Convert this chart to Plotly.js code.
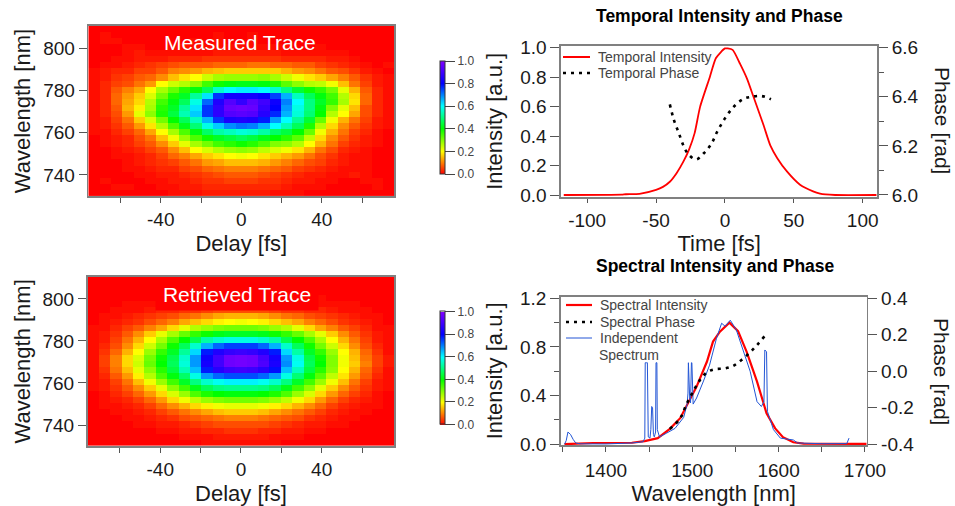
<!DOCTYPE html>
<html>
<head>
<meta charset="utf-8">
<script src="https://cdn.plot.ly/plotly-3.0.1.min.js"></script>
<style>html,body{margin:0;padding:0;background:#fff}#chart{width:955px;height:506px}</style>
</head>
<body>
<div id="chart"></div>
<script>
// Trace values in percent of peak; rows run from the long-wavelength (top) row downward
const measuredTrace = [
[0,0,0,0,0,0,0,0,0,0,0,0,0,0,0,0,0,0,0,0,0,0,0,0,0,0,0],
[0,1,0,0,0,0,0,0,0,0,0,1,0,0,1,0,0,0,0,0,0,0,0,0,0,0,0],
[0,1,1,0,0,0,0,0,0,1,0,1,0,0,1,0,0,0,0,0,0,0,0,0,0,0,0],
[0,0,0,1,1,0,0,1,1,1,1,1,1,1,1,1,1,1,0,0,1,0,0,0,0,0,0],
[0,0,0,1,2,1,1,1,1,1,1,2,2,2,2,2,2,1,1,1,1,1,1,0,0,0,0],
[0,0,1,1,2,2,2,3,3,3,4,4,4,4,4,4,4,3,3,3,3,2,2,1,0,0,0],
[0,1,1,2,3,4,5,6,7,7,7,8,8,8,9,9,8,8,7,7,5,4,3,2,1,0,1],
[1,2,3,3,5,5,7,10,11,12,14,15,16,16,16,16,16,14,12,11,9,7,6,4,2,1,0],
[1,2,4,5,7,8,11,15,18,20,24,27,28,28,28,29,27,24,21,18,16,13,10,7,4,2,1],
[1,3,5,6,9,12,20,24,26,29,35,39,41,42,42,41,38,33,29,26,25,21,15,9,5,2,1],
[1,3,7,10,13,20,27,32,37,41,47,56,60,61,61,60,56,50,44,39,36,31,22,14,7,3,1],
[1,3,8,12,16,23,31,38,43,52,62,76,83,83,83,81,75,66,55,47,41,35,26,17,8,3,1],
[1,3,8,13,17,26,35,41,47,58,72,85,93,88,94,90,82,70,60,50,43,36,27,18,8,3,1],
[1,3,7,14,19,27,37,43,52,62,76,87,96,97,96,88,80,68,58,50,41,30,22,15,6,3,1],
[1,3,6,12,22,29,38,45,54,64,76,87,93,94,93,86,77,66,57,49,40,26,20,13,6,3,1],
[1,2,5,9,16,23,31,40,47,55,66,76,84,85,84,78,68,60,52,44,32,21,14,9,5,2,1],
[1,2,4,7,12,18,26,34,42,49,58,64,69,71,70,66,60,54,47,38,26,17,11,7,4,2,1],
[1,1,3,5,8,13,20,27,34,41,48,53,55,57,56,53,48,45,40,32,21,14,9,5,3,1,0],
[0,1,2,3,6,9,15,21,28,34,39,43,45,47,45,42,40,37,33,25,17,11,7,4,2,1,0],
[0,1,2,3,5,7,11,16,22,27,31,35,37,39,37,34,30,29,26,20,14,9,5,3,2,1,0],
[0,0,1,2,3,5,7,11,15,20,23,26,28,29,28,25,23,21,18,14,9,6,3,2,1,0,0],
[0,0,1,1,2,3,5,8,10,13,16,18,20,21,20,18,16,14,12,9,6,4,2,1,1,0,0],
[0,0,0,1,2,3,4,5,7,9,12,13,15,15,15,14,12,10,8,6,5,3,2,1,1,0,0],
[0,0,0,1,1,2,3,3,5,6,8,9,10,10,10,9,8,7,5,4,3,2,1,1,1,0,0],
[0,0,0,0,1,1,2,2,3,4,5,6,7,7,7,6,5,4,3,2,2,1,1,2,1,0,0],
[0,1,0,0,0,1,1,2,2,3,4,4,5,5,5,4,4,3,2,2,1,1,0,0,1,1,0],
[0,0,1,1,0,0,1,1,2,2,3,3,3,3,3,3,3,2,1,1,1,0,0,0,0,1,0],
[0,0,0,0,0,0,0,1,1,1,2,2,2,2,2,2,1,1,1,0,0,0,0,0,0,0,0]
];
const retrievedTrace = [
[0,0,0,0,0,0,0,0,0,0,0,0,0,0,0,0,0,0,0,0,0,0,0,0,0,0,0],
[0,0,0,0,0,0,0,0,0,0,0,0,0,0,0,0,0,0,0,0,0,0,0,0,0,0,0],
[0,0,0,0,0,0,0,0,0,0,0,0,0,0,0,0,0,0,0,0,0,0,0,0,0,0,0],
[0,0,0,0,0,0,1,1,1,1,1,1,1,1,1,1,1,1,1,1,1,0,0,0,0,0,0],
[0,0,0,1,1,1,1,2,2,2,3,3,3,3,3,3,3,2,2,2,1,1,1,1,0,0,0],
[0,0,1,1,1,2,3,3,4,4,5,6,6,6,6,6,5,4,4,3,3,2,1,1,1,0,0],
[0,1,1,2,3,4,5,6,8,9,11,13,14,14,14,13,11,9,8,6,5,4,3,2,1,1,0],
[0,1,2,3,4,6,8,10,13,15,17,19,20,21,20,19,17,15,13,10,8,6,4,3,2,1,0],
[1,1,3,5,7,10,13,17,22,26,28,30,31,31,31,30,28,26,22,17,13,10,7,5,3,1,1],
[1,2,4,7,11,16,22,27,32,36,39,42,43,43,43,42,39,36,32,27,22,16,11,7,4,2,1],
[1,2,5,9,14,20,27,34,40,46,53,56,58,58,58,56,53,46,40,34,27,20,14,9,5,2,1],
[1,3,6,11,17,24,31,39,47,56,66,72,75,75,75,72,66,56,47,39,31,24,17,11,6,3,1],
[1,4,8,14,20,28,36,43,52,63,78,85,88,89,88,85,78,63,53,43,36,28,20,14,8,4,1],
[1,5,10,17,23,31,39,46,56,68,82,90,97,98,97,91,83,68,58,46,39,30,21,15,9,5,2],
[1,5,10,17,24,32,40,47,57,68,83,90,97,98,97,92,84,69,59,47,40,30,21,16,10,5,2],
[1,4,9,15,22,29,37,45,54,65,78,86,89,90,89,86,79,65,55,45,37,29,20,14,8,4,1],
[1,3,7,12,19,26,34,41,48,58,68,72,74,74,74,72,68,58,49,41,33,25,18,12,7,3,1],
[1,2,5,9,15,21,28,35,43,50,56,59,61,61,61,59,56,50,43,35,28,21,15,9,5,2,1],
[1,2,4,7,11,16,22,29,35,42,47,50,51,51,51,50,47,42,35,29,22,16,11,7,4,2,1],
[0,1,3,5,8,12,17,23,28,34,38,40,41,41,41,40,38,34,28,23,17,12,8,5,3,1,0],
[0,1,2,3,5,8,12,17,21,25,28,30,31,31,31,30,28,25,21,17,12,8,5,3,2,1,0],
[0,1,1,2,3,5,8,11,14,17,19,21,22,22,22,21,19,17,14,11,8,5,3,2,1,1,0],
[0,0,1,1,2,3,5,7,9,11,13,15,16,16,16,15,13,11,9,7,5,3,2,1,1,0,0],
[0,0,0,1,1,2,3,4,6,7,8,9,10,10,10,9,8,7,6,4,3,2,1,1,0,0,0],
[0,0,0,0,1,1,2,2,3,4,5,6,6,6,6,6,5,4,3,2,2,1,1,0,0,0,0],
[0,0,0,0,0,0,1,1,2,2,3,3,4,4,4,3,3,2,2,1,1,0,0,0,0,0,0],
[0,0,0,0,0,0,0,0,1,1,1,2,2,2,2,2,1,1,1,0,0,0,0,0,0,0,0],
[0,0,0,0,0,0,0,0,0,0,1,1,1,1,1,1,1,0,0,0,0,0,0,0,0,0,0]
];
const temporalTime = [-117,-75,-72,-62,-50,-45,-40,-35,-30,-26,-22,-18,-11,-6.5,0,2,5.6,11,16,20.6,28,33,38,45,54.5,64,69,73,80,110];
const temporalIntensity = [0,0.002,0.005,0.008,0.035,0.055,0.09,0.15,0.23,0.31,0.42,0.6,0.8,0.93,0.995,0.995,0.985,0.89,0.79,0.67,0.475,0.335,0.25,0.16,0.07,0.025,0.01,0.004,0,0];
const phaseTime = [-40,-37,-33.4,-29.8,-26.6,-21,-15.3,-9.7,-5.6,0,6,13.3,19.4,26.6,33.4];
const temporalPhase = [6.369,6.305,6.251,6.197,6.166,6.145,6.17,6.21,6.258,6.312,6.357,6.391,6.4,6.403,6.39];
const specWave = [1352,1385,1430,1445,1460,1474,1486,1493,1505,1517,1524,1532,1543,1553,1563,1575,1586,1596,1605,1617,1629,1702];
const specIntensity = [0,0.01,0.012,0.025,0.05,0.126,0.214,0.31,0.474,0.68,0.844,0.926,1,0.93,0.76,0.515,0.255,0.13,0.058,0.016,0.005,0.002];
const specPhaseWave = [1474,1486,1493,1503,1509,1517,1526,1538,1547.5,1557,1567,1575,1584];
const specPhase = [-0.316,-0.258,-0.184,-0.093,-0.047,-0.005,0.011,0.016,0.03,0.062,0.104,0.144,0.194];
const indepWave = [1352,1354,1356,1359,1362,1365,1370,1400,1430,1443,1445,1445.5,1447,1448,1449,1451,1452,1453,1454,1455,1456,1457.5,1458,1459,1459.5,1462,1470,1480,1490,1494,1495,1495.5,1497,1498,1499,1499.5,1501,1505,1513,1520,1528,1534,1538,1544,1551,1559,1567,1575,1580,1583,1584,1586,1587,1594,1602,1617,1622,1650,1679,1681.5];
const indepSpectrum = [0,0.03,0.1,0.08,0.04,0.01,0.003,0.002,0.01,0.02,0.05,0.67,0.67,0.67,0.06,0.05,0.12,0.31,0.3,0.08,0.06,0.1,0.67,0.67,0.12,0.06,0.09,0.13,0.22,0.33,0.42,0.67,0.38,0.34,0.67,0.67,0.33,0.38,0.52,0.65,0.87,0.995,0.97,1.02,0.94,0.76,0.6,0.35,0.31,0.35,0.775,0.76,0.27,0.12,0.05,0.035,0.01,0.004,0.005,0.05];
const colorStops = [[0,'#ff0000'],[0.2,'#ffff00'],[0.4,'#00ff00'],[0.6,'#00ffff'],[0.8,'#0000ff'],[1,'#8000ff']];
const barTicks = [0,0.2,0.4,0.6,0.8,1];
const barLabels = ['0.0','0.2','0.4','0.6','0.8','1.0'];

const W = 955, H = 506;
const dx = p => [p[0]/W, p[1]/W];
const dy = p => [1-p[1]/H, 1-p[0]/H];
const FONT = '"Liberation Sans", Arial, sans-serif';
const FRAME = '#808080', TICK = '#555555', TXT = '#1a1a1a';
const TICKFONT = {family:FONT, size:19, color:TXT};
const TITLEFONT = {family:FONT, size:22, color:TXT};

function axis(extra, minor, len) {
  return Object.assign({
    showline:true, linecolor:FRAME, linewidth:1.6, mirror:true,
    ticks:'outside', ticklen:len||9, tickwidth:1, tickcolor:TICK,
    showgrid:false, zeroline:false, tickfont:TICKFONT,
    minor: minor ? {dtick:minor, ticks:'outside', ticklen:Math.min(len||5,5), tickwidth:1, tickcolor:TICK, showgrid:false} : undefined
  }, extra);
}
function heat(z, xa, ya, barTop) {
  const rows = z.slice().reverse().map(r => r.map(v => v/100));
  return {
    type:'heatmap', z:rows, x0:-73.2, dx:5.635, y0:731.44, dy:2.88, xaxis:xa, yaxis:ya,
    zmin:0, zmax:1, colorscale:colorStops, zsmooth:false, hoverinfo:'skip',
    colorbar:{
      x:440/W, xanchor:'left', y:1-barTop/H, yanchor:'top', len:113, lenmode:'pixels',
      thickness:5, thicknessmode:'pixels', xpad:0, ypad:0,
      outlinecolor:'#333', outlinewidth:1, tickmode:'array', tickvals:barTicks, ticktext:barLabels,
      ticks:'outside', ticklen:10, tickcolor:'#444', tickwidth:1,
      tickfont:{family:FONT, size:12, color:'#444'}
    }
  };
}
const RED='#ff0000', BLUE='#2255d5', BLK='#000000', DOT='3px,5px';
const data = [
  heat(measuredTrace,'x','y',61),
  heat(retrievedTrace,'x2','y2',311.5),
  {type:'scatter',mode:'lines',name:'Temporal Intensity',x:temporalTime,y:temporalIntensity,xaxis:'x3',yaxis:'y3',line:{color:RED,width:1.8,shape:'spline',smoothing:0.6}},
  {type:'scatter',mode:'lines',name:'Temporal Phase',x:phaseTime,y:temporalPhase,xaxis:'x3',yaxis:'y4',line:{color:BLK,width:2.6,dash:DOT,shape:'spline'}},
  {type:'scatter',mode:'lines',name:'Spectral Intensity',x:specWave,y:specIntensity,xaxis:'x4',yaxis:'y5',line:{color:RED,width:2.2}},
  {type:'scatter',mode:'lines',name:'Independent Spectrum',x:indepWave,y:indepSpectrum,xaxis:'x4',yaxis:'y5',line:{color:BLUE,width:1}},
  {type:'scatter',mode:'lines',name:'Spectral Phase',x:specPhaseWave,y:specPhase,xaxis:'x4',yaxis:'y6',line:{color:BLK,width:2.6,dash:DOT,shape:'spline'}}
];
function note(x,y,text,size,color,extra){
  return Object.assign({xref:'paper',yref:'paper',x:x/W,y:1-y/H,text:text,showarrow:false,xanchor:'center',yanchor:'middle',font:{family:FONT,size:size,color:color}},extra||{});
}
function key(x0,x1,y,color,width,dash){
  return {type:'line',xref:'paper',yref:'paper',x0:x0/W,x1:x1/W,y0:1-y/H,y1:1-y/H,line:{color:color,width:width,dash:dash||'solid'}};
}
const L={xanchor:'left'};
const layout = {
  width:W, height:H, margin:{l:0,r:0,t:0,b:0}, paper_bgcolor:'#fff', plot_bgcolor:'#fff', font:{family:FONT}, showlegend:false,
  xaxis: axis({domain:dx([88.3,394.3]), range:[-76,76], anchor:'y', tickvals:[-40,0,40], ticktext:['-40','0','40'], ticklabelstandoff:1, title:{text:'Delay [fs]',font:TITLEFONT,standoff:6}},20,5),
  yaxis: axis({domain:dy([26,196]), range:[730,810.6], anchor:'x', tickvals:[740,760,780,800], ticklen:8, title:{text:'Wavelength [nm]',font:TITLEFONT,standoff:6}}),
  xaxis2: axis({domain:dx([87.6,394.3]), range:[-76,76], anchor:'y2', tickvals:[-40,0,40], ticktext:['-40','0','40'], ticklabelstandoff:1, title:{text:'Delay [fs]',font:TITLEFONT,standoff:6}},20,5),
  yaxis2: axis({domain:dy([276.7,446]), range:[730,810.6], anchor:'x2', tickvals:[740,760,780,800], ticklen:8, title:{text:'Wavelength [nm]',font:TITLEFONT,standoff:6}}),
  xaxis3: axis({domain:dx([561,877.3]), range:[-119,110.6], anchor:'y3', tickvals:[-100,-50,0,50,100], ticktext:['-100','-50','0','50','100'], ticklen:4, ticklabelstandoff:2, title:{text:'Time [fs]',font:TITLEFONT,standoff:2}}),
  yaxis3: axis({domain:dy([45.7,197]), range:[-0.0136,1.0136], anchor:'x3', tickvals:[0,0.2,0.4,0.6,0.8,1], ticktext:['0.0','0.2','0.4','0.6','0.8','1.0'], mirror:false, title:{text:'Intensity [a.u.]',font:TITLEFONT,standoff:11}}),
  yaxis4: axis({domain:dy([45.7,197]), range:[5.9918,6.6082], anchor:'x3', overlaying:'y3', side:'right', tickvals:[6,6.2,6.4,6.6], ticktext:['6.0','6.2','6.4','6.6']},0.1),
  xaxis4: axis({domain:dx([560.7,866.7]), range:[1347.6,1702], anchor:'y5', tickvals:[1400,1500,1600,1700], ticklen:5, ticklabelstandoff:3, title:{text:'Wavelength [nm]',font:TITLEFONT,standoff:4}},50,5),
  yaxis5: axis({domain:dy([296.7,445]), range:[-0.0066,1.2132], anchor:'x4', tickvals:[0,0.4,0.8,1.2], ticktext:['0.0','0.4','0.8','1.2'], mirror:false, title:{text:'Intensity [a.u.]',font:TITLEFONT,standoff:11}},0.2),
  yaxis6: axis({domain:dy([296.7,445]), range:[-0.4038,0.4088], anchor:'x4', overlaying:'y5', side:'right', tickvals:[-0.4,-0.2,0,0.2,0.4], ticktext:['-0.4','-0.2','0.0','0.2','0.4']}),
  shapes:[
    key(563,590,57,RED,2),
    key(563,590,73,BLK,2.6,DOT),
    key(566,592,305,RED,2.2),
    key(566,592,322,BLK,2.6,DOT),
    key(566,592,338,BLUE,1)
  ],
  annotations:[
    note(240,43,'Measured Trace',21,'#fff'),
    note(237,294,'Retrieved Trace',21,'#fff',{bgcolor:'#ff0000',width:160,height:30}),
    note(719,16,'<b>Temporal Intensity and Phase</b>',17.5,'#000'),
    note(715,266,'<b>Spectral Intensity and Phase</b>',17.5,'#000'),
    note(596,57,'Temporal Intensity',14,'#444',L),
    note(596,73,'Temporal Phase',14,'#444',L),
    note(598,305,'Spectral Intensity',14,'#444',L),
    note(598,322,'Spectral Phase',14,'#444',L),
    note(598,338,'Independent',14,'#444',L),
    note(597,355,'Spectrum',14,'#444',L),
    note(942,120,'Phase [rad]',21,TXT,{textangle:90}),
    note(942,371,'Phase [rad]',21,TXT,{textangle:90})
  ]
};
Plotly.newPlot('chart', data, layout, {displayModeBar:false, staticPlot:true});
</script>
</body>
</html>
